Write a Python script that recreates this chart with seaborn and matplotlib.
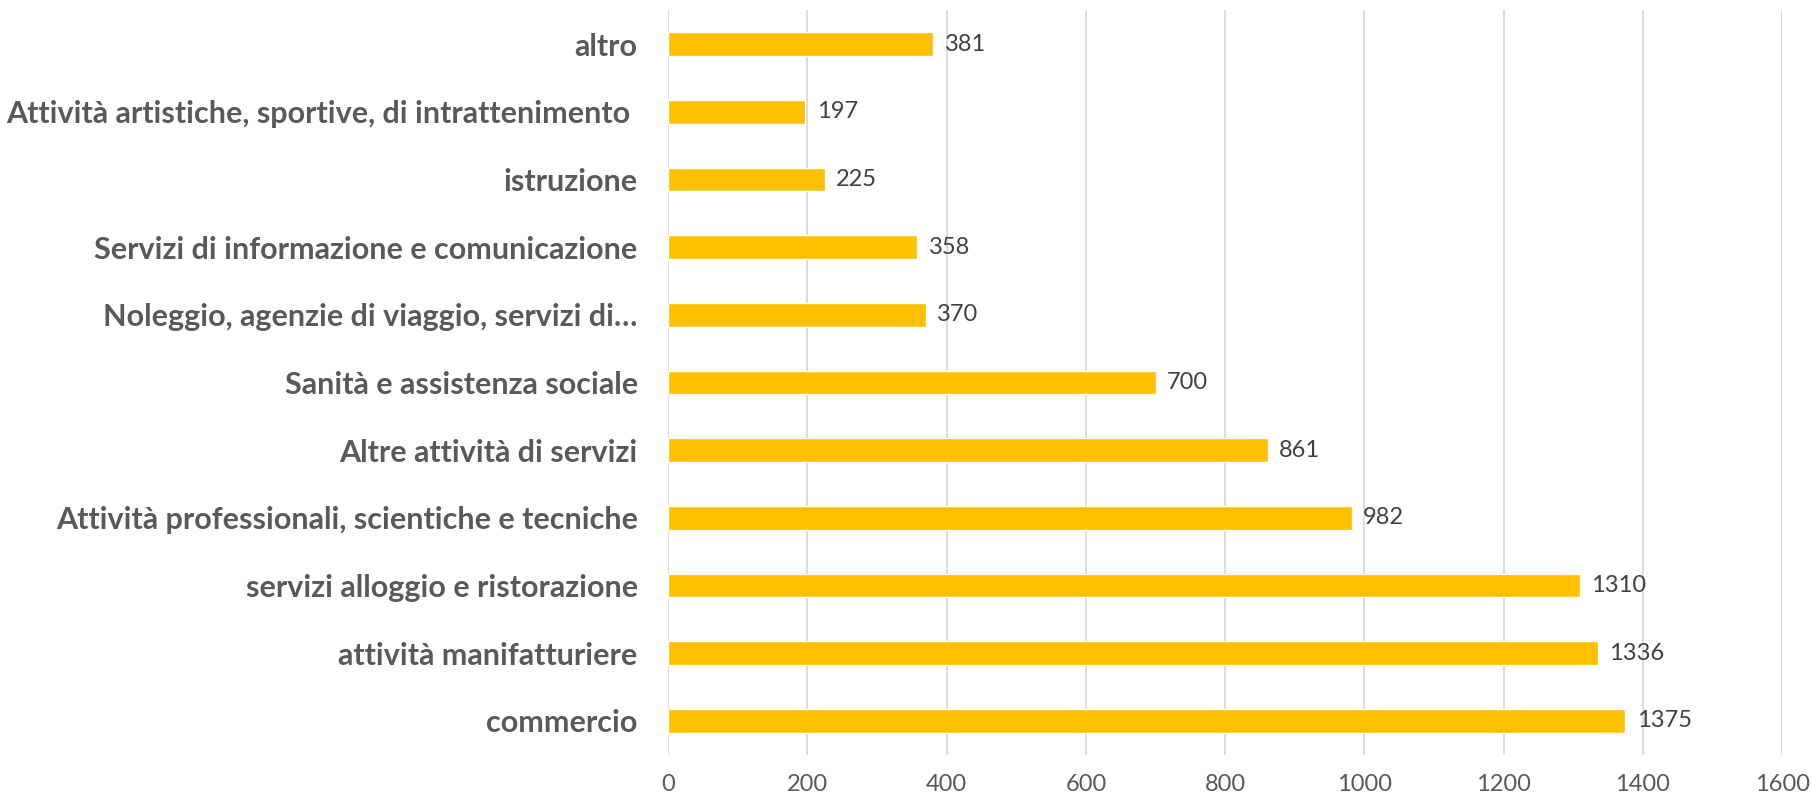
import matplotlib
matplotlib.use("Agg")
import matplotlib.pyplot as plt
import seaborn as sns
import pandas as pd

# data (top to bottom as in the chart)
categories = [
    "altro",
    "Attività artistiche, sportive, di intrattenimento ",
    "istruzione",
    "Servizi di informazione e comunicazione",
    "Noleggio, agenzie di viaggio, servizi di…",
    "Sanità e assistenza sociale",
    "Altre attività di servizi",
    "Attività professionali, scientiche e tecniche",
    "servizi alloggio e ristorazione",
    "attività manifatturiere",
    "commercio",
]
values = [381, 197, 225, 358, 370, 700, 861, 982, 1310, 1336, 1375]
x_ticks = [0, 200, 400, 600, 800, 1000, 1200, 1400, 1600]

df = pd.DataFrame({"settore": categories, "valore": values})

sns.set_style("white")
plt.rcParams["font.family"] = ["Lato", "DejaVu Sans"]

fig = plt.figure(figsize=(18.11, 7.97), dpi=100)
ax = fig.add_axes([0.369, 0.053, 0.615, 0.934])

sns.barplot(data=df, x="valore", y="settore", color="#FFC000",
            width=0.35, saturation=1, errorbar=None, ax=ax)

ax.set_xlim(0, 1600)
ax.set_xticks(x_ticks)
ax.xaxis.grid(True, color="#D9D9D9", linewidth=1.3)
ax.set_axisbelow(True)
for s in ax.spines.values():
    s.set_visible(False)

ax.set_xlabel("")
ax.set_ylabel("")
ax.tick_params(axis="x", length=0, pad=14, labelsize=17, labelcolor="#595959")
ax.tick_params(axis="y", length=0, pad=22, labelsize=22, labelcolor="#595959")
for lab in ax.get_yticklabels():
    lab.set_fontweight("bold")

for i, v in enumerate(values):
    ax.text(v + 16, i, str(v), va="center", ha="left",
            fontsize=17, color="#404040")

fig.savefig("out.png", dpi=100)
